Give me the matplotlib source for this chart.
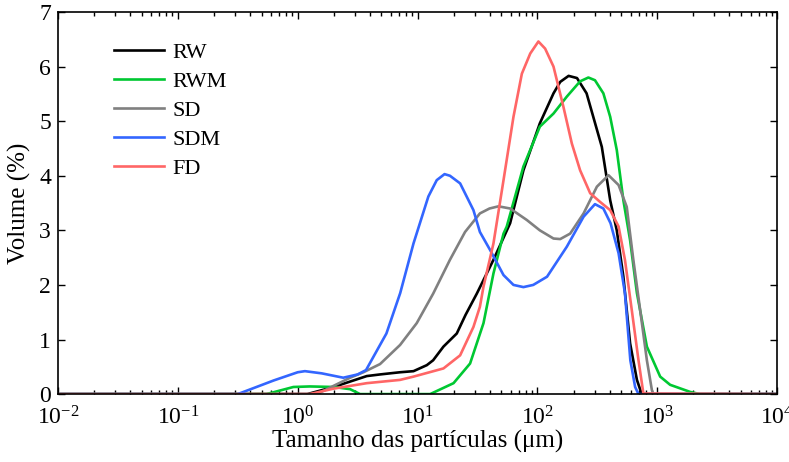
import numpy as np
import matplotlib
matplotlib.use("Agg")
import matplotlib.pyplot as plt
from matplotlib.ticker import LogLocator, LogFormatterMathtext, NullFormatter

plt.rcParams['font.family'] = ['Liberation Serif', 'DejaVu Serif']
plt.rcParams['mathtext.fontset'] = 'custom'
plt.rcParams['mathtext.rm'] = 'Liberation Serif'
plt.rcParams['mathtext.it'] = 'Liberation Serif:italic'

# log10 of particle size (um) and volume (%) for each sample
rw_log = [-2, 0.08, 0.30, 0.576, 0.687, 0.77, 0.854, 0.966, 1.077, 1.13, 1.216, 1.327, 1.40, 1.494,
          1.633, 1.772, 1.883, 2.02, 2.134, 2.19, 2.26, 2.33, 2.41, 2.537, 2.607, 2.662, 2.717,
          2.773, 2.83, 2.87, 4]
rw_vol = [0, 0, 0.13, 0.33, 0.36, 0.38, 0.40, 0.42, 0.53, 0.62, 0.87, 1.11, 1.45, 1.84,
          2.46, 3.13, 4.10, 4.96, 5.51, 5.72, 5.83, 5.79, 5.51, 4.53, 3.55, 3.0, 2.15,
          0.93, 0.26, 0.0, 0]

rwm_log = [-2, -0.26, -0.036, 0.1, 0.3, 0.437, 0.52, 1.105, 1.30, 1.438, 1.55, 1.633, 1.717,
           1.744, 1.883, 2.02, 2.134, 2.245, 2.356, 2.425, 2.48, 2.55, 2.607, 2.662, 2.717,
           2.773, 2.83, 2.913, 3.024, 3.107, 3.274, 3.357, 4]
rwm_vol = [0, 0, 0.13, 0.14, 0.13, 0.09, 0.0, 0.0, 0.2, 0.56, 1.30, 2.21, 2.94,
           3.07, 4.17, 4.90, 5.14, 5.45, 5.73, 5.80, 5.75, 5.51, 5.08, 4.47, 3.55,
           2.82, 1.85, 0.87, 0.32, 0.17, 0.04, 0.0, 0]

sd_log = [-2, 0.16, 0.437, 0.548, 0.687, 0.854, 0.993, 1.13, 1.27, 1.396, 1.52, 1.60, 1.675,
          1.772, 1.911, 2.02, 2.134, 2.19, 2.273, 2.385, 2.496, 2.593, 2.677, 2.745, 2.80,
          2.857, 2.913, 2.955, 2.968, 4]
sd_vol = [0, 0, 0.30, 0.40, 0.55, 0.90, 1.30, 1.84, 2.46, 2.97, 3.31, 3.40, 3.44,
          3.40, 3.19, 3.0, 2.85, 2.84, 2.94, 3.31, 3.80, 4.01, 3.83, 3.43, 2.46,
          1.54, 0.62, 0.07, 0.0, 0]

sdm_log = [-2, -0.5, -0.2, 0.0, 0.06, 0.2, 0.38, 0.5, 0.57, 0.74, 0.855, 0.966, 1.09, 1.16,
           1.225, 1.27, 1.355, 1.466, 1.52, 1.605, 1.717, 1.80, 1.883, 1.965, 2.08, 2.245,
           2.385, 2.48, 2.55, 2.61, 2.677, 2.73, 2.775, 2.815, 2.843, 4]
sdm_vol = [0, 0, 0.25, 0.40, 0.42, 0.38, 0.30, 0.36, 0.44, 1.11, 1.85, 2.76, 3.62, 3.92,
           4.03, 4.0, 3.86, 3.37, 2.97, 2.64, 2.18, 2.0, 1.96, 2.0, 2.15, 2.70,
           3.25, 3.48, 3.40, 3.13, 2.58, 1.85, 0.62, 0.13, 0.0, 0]

fd_log = [-2, 0.1, 0.30, 0.576, 0.854, 0.966, 1.216, 1.355, 1.466, 1.52, 1.55, 1.633, 1.717,
          1.80, 1.87, 1.94, 2.008, 2.064, 2.134, 2.217, 2.287, 2.356, 2.44, 2.523, 2.607,
          2.677, 2.73, 2.787, 2.843, 2.884, 4]
fd_vol = [0, 0, 0.10, 0.20, 0.26, 0.32, 0.47, 0.71, 1.23, 1.60, 1.97, 2.76, 3.92,
          5.08, 5.87, 6.24, 6.46, 6.33, 6.0, 5.26, 4.59, 4.10, 3.68, 3.52, 3.37,
          3.07, 2.46, 1.54, 0.62, 0.01, 0]

labels = ['RW', 'RWM', 'SD', 'SDM', 'FD']
colors = ['#000000', '#00c832', '#808080', '#3366ff', '#ff6666']
series = [(rw_log, rw_vol), (rwm_log, rwm_vol), (sd_log, sd_vol),
          (sdm_log, sdm_vol), (fd_log, fd_vol)]

fig = plt.figure(figsize=(7.89, 4.62), dpi=100)
ax = fig.add_axes([0.0735, 0.147, 0.9115, 0.827])

for (lx, v), lab, c in zip(series, labels, colors):
    ax.plot(10 ** np.array(lx), v, color=c, lw=1.9, label=lab)

ax.set_xscale('log')
ax.set_xlim(1e-2, 1e4)
ax.set_ylim(0, 7)
ax.xaxis.set_major_locator(LogLocator(base=10, numticks=10))
ax.xaxis.set_major_formatter(LogFormatterMathtext())
ax.xaxis.set_minor_locator(LogLocator(base=10, subs=np.arange(2, 10), numticks=20))
ax.xaxis.set_minor_formatter(NullFormatter())
ax.set_yticks(range(0, 8))

ax.tick_params(which='both', direction='in', top=True, right=True, labelsize=17, width=1)
ax.tick_params(which='major', length=5)
ax.tick_params(which='minor', length=3)
ax.tick_params(axis='x', pad=9)
ax.tick_params(axis='y', pad=5)
for s in ax.spines.values():
    s.set_linewidth(1.2)

ax.set_xlabel('Tamanho das partículas (μm)', fontsize=18, labelpad=0)
ax.set_ylabel('Volume (%)', fontsize=18, labelpad=6)

ax.legend(loc='upper left', frameon=False, fontsize=16, handlelength=2.25,
          borderaxespad=0.0, bbox_to_anchor=(0.065, 0.943), labelspacing=0.38,
          handletextpad=0.4)

fig.savefig('out.png', dpi=100)
